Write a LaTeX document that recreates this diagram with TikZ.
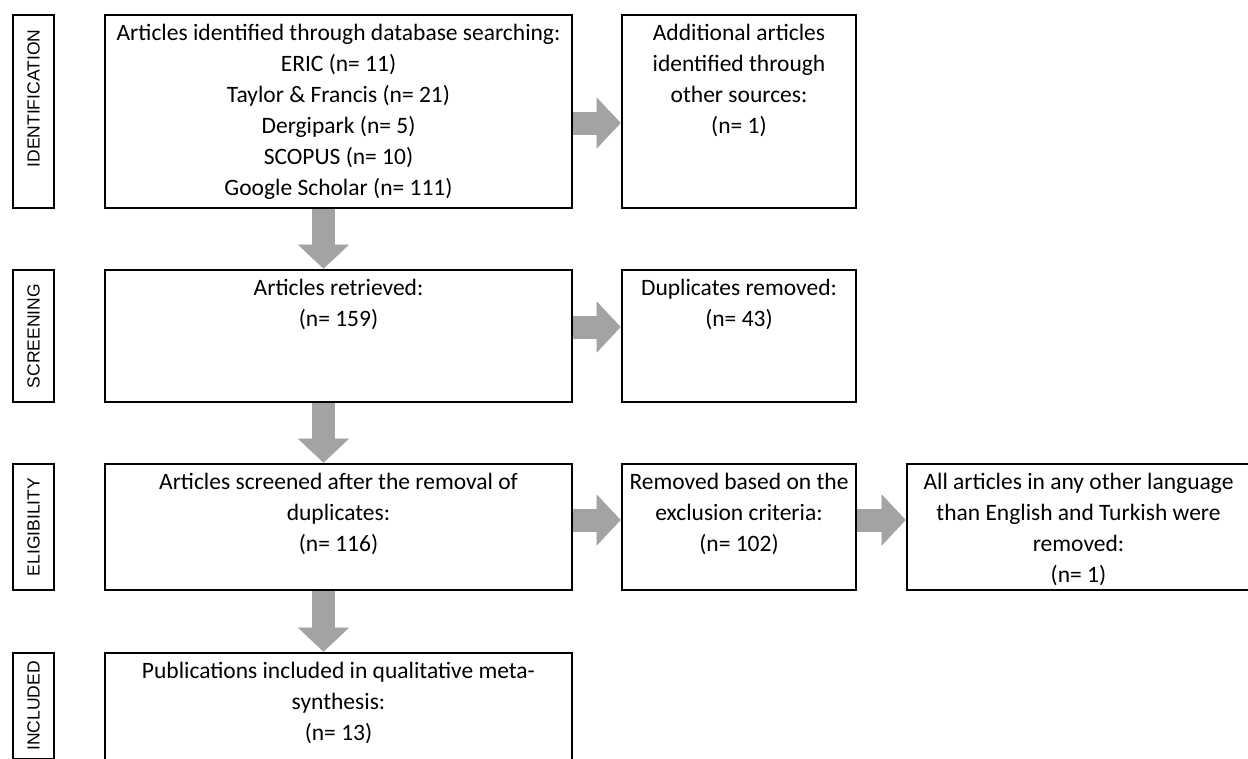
\documentclass[tikz,border=0pt]{standalone}
\usepackage{fontspec}
\setmainfont{Carlito}
\newfontfamily\sidefont{Liberation Sans}
\usetikzlibrary{arrows.meta}
\tikzset{
  box/.style={draw, line width=2.6pt, inner sep=0pt},
  txt/.style={anchor=north, yshift=-10pt, align=center, inner sep=0pt,
    font=\fontsize{23.5}{31}\selectfont},
  phase/.style={box, rotate=90, minimum height=41pt,
    font=\sidefont\fontsize{17.5}{20}\selectfont},
  flow/.style={line width=23pt, draw=black!36, line cap=butt,
    -{Triangle[length=24pt, width=51pt, line width=0.5pt, color=black!36, fill=black!36]}}
}
\begin{document}
\begin{tikzpicture}[x=1pt, y=-1pt]
\newcommand\XMain{338.5}
\newcommand\XRight{739}
\useasboundingbox (0,0) rectangle (1248,758);
\clip (0,0) rectangle (1248,758);
% phase labels on the left
\node[phase, minimum width=193pt] (Pid) at (33.5,111.5) {\hspace*{26pt}IDENTIFICATION};
\node[phase, minimum width=132pt] (Psc) at (33.5,336) {SCREENING};
\node[phase, minimum width=126pt] (Pel) at (33.5,527) {ELIGIBILITY};
\node[phase, minimum width=106pt] (Pin) at (33.5,706) {INCLUDED};
% main column
\node[box, minimum width=467pt, minimum height=193pt, label={[txt]north:Articles identified through database searching:\\ERIC (n= 11)\\Taylor \& Francis (n= 21)\\Dergipark (n= 5)\\SCOPUS (n= 10)\\Google Scholar (n= 111)}] (Bid) at (\XMain,111.5) {};
\node[box, minimum width=467pt, minimum height=132pt, label={[txt]north:Articles retrieved:\\(n= 159)}] (Bsc) at (\XMain,336) {};
\node[box, minimum width=467pt, minimum height=126pt, label={[txt]north:Articles screened after the removal of\\duplicates:\\(n= 116)}] (Bel) at (\XMain,527) {};
\node[box, minimum width=467pt, minimum height=112pt, label={[txt]north:Publications included in qualitative meta-\\synthesis:\\(n= 13)}] (Bin) at (\XMain,709) {};
% side column
\node[box, minimum width=234pt, minimum height=193pt, label={[txt]north:Additional articles\\identified through\\other sources:\\(n= 1)}] (Rid) at (\XRight,111.5) {};
\node[box, minimum width=234pt, minimum height=132pt, label={[txt]north:Duplicates removed:\\(n= 43)}] (Rsc) at (\XRight,336) {};
\node[box, minimum width=234pt, minimum height=126pt, label={[txt]north:Removed based on the\\exclusion criteria:\\(n= 102)}] (Rexc) at (\XRight,527) {};
\node[box, minimum width=343pt, minimum height=126pt, label={[txt]north:All articles in any other language\\than English and Turkish were\\removed:\\(n= 1)}] (Rlang) at (1078.5,527) {};

\draw[flow] ([xshift=-15pt]Bid.south) -- ([xshift=-15pt]Bsc.north);
\draw[flow] ([xshift=-15pt]Bsc.south) -- ([xshift=-15pt]Bel.north);
\draw[flow] ([xshift=-15pt]Bel.south) -- ([xshift=-15pt]Bin.north);
\draw[flow] ([yshift=-11.5pt]Bid.east) -- ([yshift=-11.5pt]Rid.west);
\draw[flow] ([yshift=9pt]Bsc.east) -- ([yshift=9pt]Rsc.west);
\draw[flow] ([yshift=7pt]Bel.east) -- ([yshift=7pt]Rexc.west);
\draw[flow] ([yshift=7pt]Rexc.east) -- ([yshift=7pt]Rlang.west);
\end{tikzpicture}
\end{document}
